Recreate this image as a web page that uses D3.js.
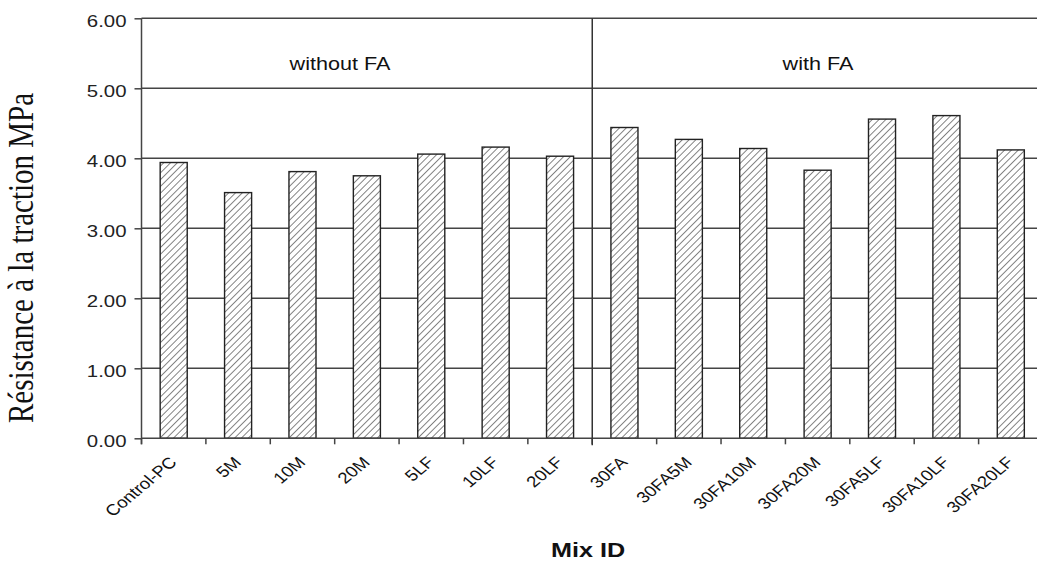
<!DOCTYPE html>
<html><head><meta charset="utf-8">
<script src="https://cdn.jsdelivr.net/npm/d3@7"></script>
<style>body{margin:0;background:#fff;} svg{display:block;}</style>
</head><body>
<svg id="c" width="1037" height="561"></svg>
<script>
const categories = ["Control-PC","5M","10M","20M","5LF","10LF","20LF","30FA","30FA5M","30FA10M","30FA20M","30FA5LF","30FA10LF","30FA20LF"];
const values = [3.94,3.51,3.81,3.75,4.06,4.16,4.03,4.44,4.27,4.14,3.83,4.56,4.61,4.12];
const yTicks = [0,1,2,3,4,5,6];
const groupLabels = ["without FA","with FA"];
const groupSplit = "30FA";

(function(){
const svg = d3.select("#c");
const SX = 1.2; // horizontal stretch of the original figure
const sans = "Liberation Sans, Arial, sans-serif";
const pL = 141.5, pR = 1043, pT = 18.3, pB = 438.3;
const x = d3.scaleBand().domain(categories).range([pL, pR]).paddingInner(0.58).paddingOuter(0.29);
const y = d3.scaleLinear().domain([0,6]).range([pB, pT]);

const defs = svg.append("defs");
const hs = 4.8;
const pat = defs.append("pattern").attr("id","hatch").attr("patternUnits","userSpaceOnUse")
  .attr("width",hs).attr("height",hs).attr("patternTransform","rotate(45)");
pat.append("rect").attr("width",hs).attr("height",hs).attr("fill","#fff");
pat.append("line").attr("x1",0).attr("y1",0).attr("x2",0).attr("y2",hs).attr("stroke","#333").attr("stroke-width",1.2);

// gridlines
svg.append("g").selectAll("line").data(yTicks.filter(d=>d>0)).join("line")
  .attr("x1",pL).attr("x2",1037).attr("y1",d=>y(d)).attr("y2",d=>y(d))
  .attr("stroke","#444").attr("stroke-width",1.5);

// bars
svg.append("g").selectAll("rect").data(values).join("rect")
  .attr("x",(d,i)=>x(categories[i])).attr("width",x.bandwidth())
  .attr("y",d=>y(d)).attr("height",d=>pB-y(d))
  .attr("fill","url(#hatch)").attr("stroke","#222").attr("stroke-width",1.4);

// y axis
const ya = svg.append("g").attr("transform",`translate(${pL},0)`)
  .call(d3.axisLeft(y).tickValues(yTicks).tickFormat(d3.format(".2f")).tickSize(7).tickPadding(0));
ya.select(".domain").attr("stroke","#444").attr("stroke-width",1.5).attr("d",`M0,${pT}V${pB+6}`);
ya.selectAll(".tick line").attr("stroke","#444").attr("stroke-width",1.5);
ya.selectAll(".tick text").attr("x",null).attr("dy",null)
  .attr("transform",`translate(-15,8.5) scale(${SX},1)`)
  .attr("font-family",sans).attr("font-size",17).attr("fill","#222");

// x axis
const step = x.step();
const bounds = categories.map((c,i)=>pL + i*step);
const xa = svg.append("g");
xa.append("line").attr("x1",pL).attr("x2",1037).attr("y1",pB).attr("y2",pB).attr("stroke","#444").attr("stroke-width",1.5);
xa.selectAll("line.tk").data(bounds).join("line").attr("class","tk")
  .attr("x1",d=>d).attr("x2",d=>d).attr("y1",pB).attr("y2",pB+6).attr("stroke","#444").attr("stroke-width",1.5);
xa.selectAll("text").data(categories).join("text")
  .attr("transform",d=>`translate(${x(d)+x.bandwidth()/2+4},${pB+25}) scale(${SX},1) rotate(-45)`)
  .attr("text-anchor","end").attr("font-family",sans).attr("font-size",15.5).attr("fill","#111")
  .text(d=>d);

// divider
const splitX = x(groupSplit) - (step - x.bandwidth())/2;
svg.append("line").attr("x1",splitX).attr("x2",splitX).attr("y1",pT).attr("y2",pB+7).attr("stroke","#333").attr("stroke-width",1.5);

// group labels
const glx = [340, 818];
svg.append("g").selectAll("text").data(groupLabels).join("text")
  .attr("transform",(d,i)=>`translate(${glx[i]},70) scale(${SX},1)`).attr("text-anchor","middle")
  .attr("font-family",sans).attr("font-size",18).attr("fill","#111").text(d=>d);

// axis titles
svg.append("text").attr("transform",`translate(588,557) scale(${SX},1)`).attr("text-anchor","middle")
  .attr("font-family",sans).attr("font-weight","bold").attr("font-size",21).attr("fill","#111").text("Mix ID");
svg.append("text").attr("transform",`translate(33,258) scale(${SX},1) rotate(-90)`).attr("text-anchor","middle")
  .attr("font-family","Liberation Serif, Times New Roman, serif").attr("font-size",29).attr("fill","#111").text("Résistance à la traction MPa");
})();
</script>
</body></html>
